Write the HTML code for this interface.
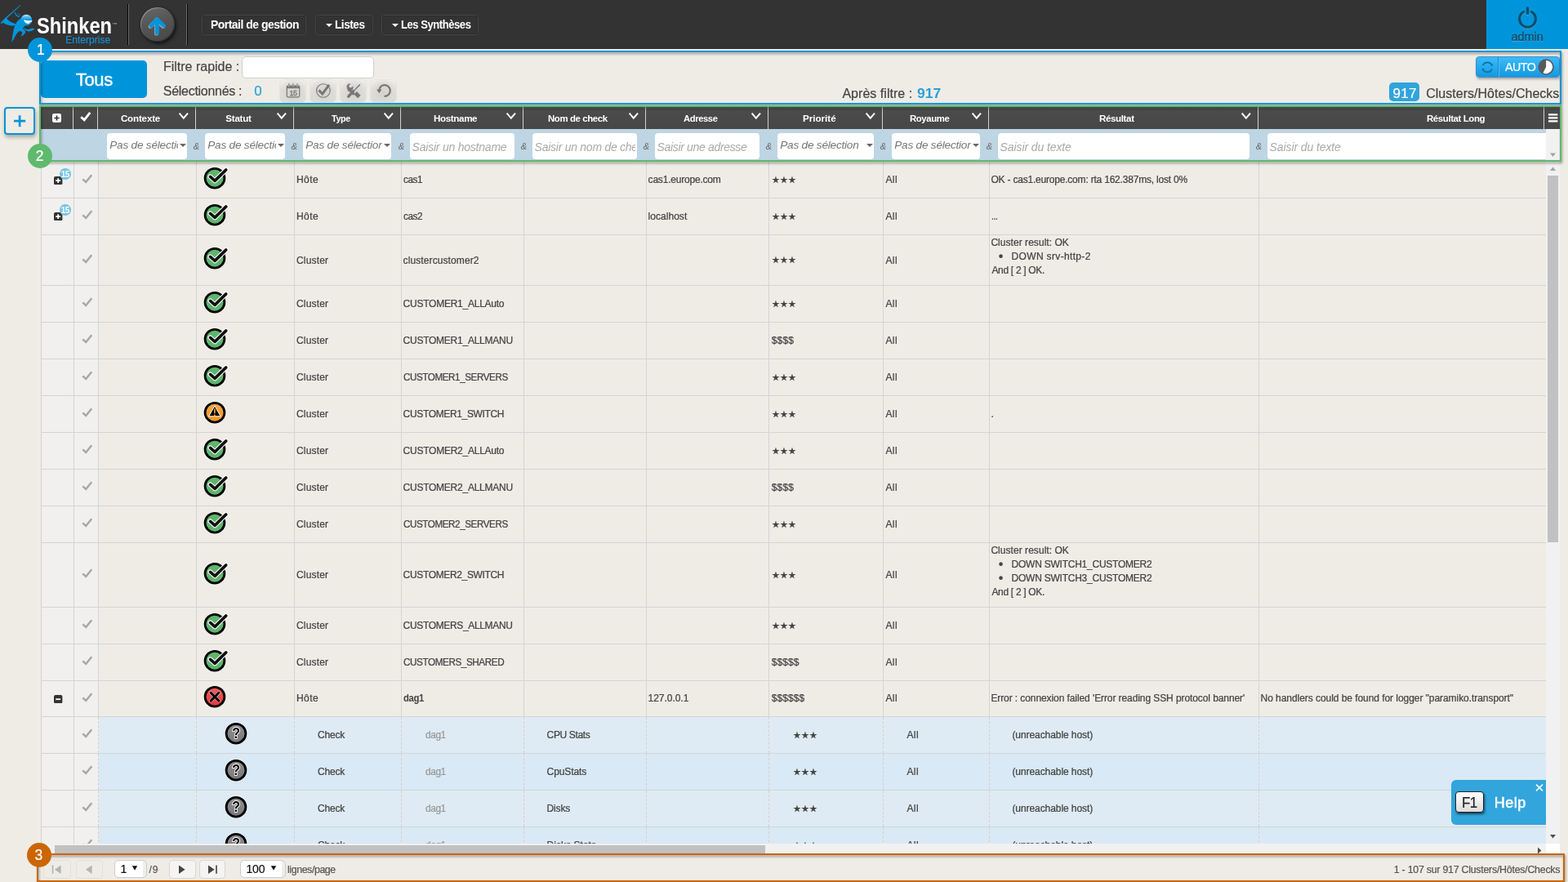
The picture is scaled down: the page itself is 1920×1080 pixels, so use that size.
<!DOCTYPE html>
<html lang="fr"><head><meta charset="utf-8"><title>Shinken Enterprise - Tous</title>
<style>
*{box-sizing:border-box}
html,body{margin:0;padding:0}
body{width:1920px;height:1080px;overflow:hidden;background:#efece6;font-family:'Liberation Sans',sans-serif;color:#444;position:relative}
.a{position:absolute}
.t{position:absolute;white-space:nowrap;-webkit-text-stroke:.2px currentColor}
#topbar{left:0;top:0;width:1920px;height:60px;background:#333}
.vsep{top:5px;width:1px;height:50px;background:#050505}
.vsepl{top:5px;width:1px;height:50px;background:#6c6c6c}
.navbtn{top:18px;height:25px;border:1px solid #444;border-radius:4px;box-shadow:inset 0 0 2px rgba(0,0,0,.35)}
.caret{width:0;height:0;border-left:4px solid transparent;border-right:4px solid transparent;border-top:4px solid #fff}
#admin{left:1820px;top:0;width:100px;height:60px;background:#0095da}
.panel{border-style:solid;border-width:2px;filter:drop-shadow(1.5px 2px 1.8px rgba(0,0,0,.42))}
.badge{width:30px;height:30px;border-radius:50%}
.tbtn{top:97.5px;width:31px;height:27px;border-radius:5px;box-shadow:0 0 0 .6px #dedcd7;background:radial-gradient(ellipse 70% 75% at 50% 62%,#d3d1cd 0%,#dddbd7 55%,rgba(221,219,215,0) 100%),linear-gradient(#f3f2f0,#d9d7d3)}
.hsep{top:131px;width:1px;height:27px;background:#d0d0d0}
.fbox{top:163px;height:32px;background:#fff;border-radius:4px}
.fcaret{width:0;height:0;border-left:4px solid transparent;border-right:4px solid transparent;border-top:4px solid #666}
.pbtn{top:1053px;height:23px;border-radius:4px;border:1px solid #e3e0da}
</style></head>
<body>
<div id="topbar" class="a">
<svg class="a" style="left:0;top:0" width="46" height="60" viewBox="0 0 46 60">
<defs><linearGradient id="hg" x1="0" y1="0" x2="0" y2="1"><stop offset="0" stop-color="#bfe6fa"/><stop offset=".28" stop-color="#45b2e8"/><stop offset=".5" stop-color="#0a98dc"/><stop offset="1" stop-color="#0095da"/></linearGradient></defs>
<g fill="#0095da">
<path d="M24.9 5.9 L25.2 6.7 L8.2 22.6 L2.1 29.1 L0.5 28.1 L7 21.4 Z"/>
<path d="M7.5 21.6 C9 24.6 12.8 27.6 19.6 29.2 L18.2 31.4 C12 31.9 6 30.1 2.9 27 Z"/>
<path d="M25.6 22.5 C22 24.5 20.2 27 19.4 29.2 C17.6 33 16.8 36 16.4 38 C15.4 42 14.7 47 14.25 52.2 C15.2 50 15.8 49.2 16.6 48.4 C17.6 46 18.8 43.8 20.2 41.8 C21.4 40.2 22.6 38.8 23.8 38 C25.4 37 27 36 28.2 34.2 L31 31 Z"/>
<path d="M27 34.4 C30 36 31.6 38.2 31.2 39.6 C30.6 41.6 28.2 43.6 25.4 44.8 C26.8 42.4 27.5 40.6 27 39.6 C26.4 38.6 25 38.1 23.6 38.1 Z"/>
<path d="M28.4 33.4 C31 35.4 33 36 35 36 C36.6 35.8 38 34.6 39.6 34.4 L42.9 35.5 C41 36.4 40 37.5 38.6 38.1 C37 38.6 35.6 38.6 35 38.5 C32.4 38 30.4 36.6 29.6 35.4 Z"/>
</g>
<path d="M18.3 15.6 Q19.6 19.4 23.4 20.7" fill="none" stroke="#0095da" stroke-width="1.2" stroke-linecap="round"/>
<path d="M22.2 16.4 Q23.2 18 24.9 18.9" fill="none" stroke="#0095da" stroke-width=".9" stroke-linecap="round"/>
<ellipse cx="32.25" cy="24.6" rx="7" ry="6.9" fill="url(#hg)"/>
<path d="M29 24.3 C32 25.3 36 25.5 39.4 25 C39.2 27.2 37 28.9 34 28.9 C31.5 28.7 29.8 26.9 29 24.3 Z" fill="#fff"/>
<path d="M36.2 26.9 L37.1 28.2 L38 26.7" fill="none" stroke="#0095da" stroke-width=".6"/>
</svg>
<span class="t" style="left:44.75px;top:15.200000000000003px;font-size:28px;line-height:34px;color:#fff;font-weight:bold;-webkit-text-stroke:0;transform:scaleX(0.8453);transform-origin:0 0">Shinken</span>
<span class="t" style="left:80.2px;top:42.2px;font-size:12px;line-height:14px;color:#1a8fd1;letter-spacing:0.031px">Enterprise</span>
<span class="t" style="left:137.4px;top:27.4px;font-size:6px;line-height:7px;color:#aaa;font-weight:bold;-webkit-text-stroke:0">™</span>
<div class="a vsep" style="left:156px"></div><div class="a vsepl" style="left:157px"></div><div class="a vsepl" style="left:228px"></div><div class="a vsep" style="left:229px"></div>
<div class="a" style="left:171.5px;top:9px;width:42px;height:42px;border-radius:50%;background:linear-gradient(160deg,#686868 0%,#565656 45%,#454545 100%);box-shadow:inset 1px 1px 0 rgba(255,255,255,.28),inset -1px -1px 1px rgba(0,0,0,.35),1.5px 2px 4px rgba(0,0,0,.75)"></div>
<svg class="a" style="left:180px;top:18px" width="26" height="28" viewBox="0 0 26 28"><g fill="none" stroke-linecap="round" stroke-linejoin="miter"><path d="M12.3 8.4 V22.4 M4.7 13.5 L12.5 5.9 L20.3 13.5" stroke="#c8b4cc" stroke-width="5" transform="translate(-.6 .7)"/><path d="M12.3 8.4 V22.4 M4.7 13.5 L12.5 5.9 L20.3 13.5" stroke="#0095da" stroke-width="5"/></g></svg>
<div class="a navbtn" style="left:247px;width:128px"></div>
<span class="t" style="left:257.7px;top:20.4px;font-size:15.5px;line-height:19px;color:#fff;font-weight:bold;-webkit-text-stroke:0;letter-spacing:-0.543px;transform:scaleX(0.8975);transform-origin:0 0">Portail de gestion</span>
<div class="a navbtn" style="left:386px;width:71px"></div><div class="a caret" style="left:399px;top:29px"></div>
<span class="t" style="left:409.52px;top:20.4px;font-size:15.5px;line-height:19px;color:#fff;font-weight:bold;-webkit-text-stroke:0;letter-spacing:-0.543px;transform:scaleX(0.8787);transform-origin:0 0">Listes</span>
<div class="a navbtn" style="left:467px;width:119px"></div><div class="a caret" style="left:480px;top:29px"></div>
<span class="t" style="left:490.76px;top:20.4px;font-size:15.5px;line-height:19px;color:#fff;font-weight:bold;-webkit-text-stroke:0;letter-spacing:-0.543px;transform:scaleX(0.8419);transform-origin:0 0">Les Synthèses</span>
<div id="admin" class="a"></div>
<svg class="a" style="left:1856px;top:8px" width="30" height="30" viewBox="0 0 30 30"><g fill="none" stroke="rgba(255,255,255,.35)" stroke-width="2.6" stroke-linecap="round" transform="translate(0,1)"><path d="M9.6 6.6 A10 10 0 1 0 19.4 6.6"/><path d="M14.5 1.8 V8.6"/></g><g fill="none" stroke="#0d4d6e" stroke-width="3" stroke-linecap="round"><path d="M9.6 6.6 A10 10 0 1 0 19.4 6.6"/><path d="M14.5 1.8 V8.6" stroke-width="3.2"/></g></svg>
<span class="t" style="left:1850.6px;top:36.6px;font-size:14.5px;line-height:17px;color:#0d4d6e;letter-spacing:-0.067px;text-shadow:0 1px 0 rgba(255,255,255,.4);-webkit-text-stroke:.5px #0d4d6e">admin</span>
</div>
<div class="a" style="left:50px;top:74px;width:130px;height:46px;background:#0095da;border-radius:5px"></div>
<span class="t" style="left:92.8px;top:84.8px;font-size:22px;line-height:26px;color:#fff;letter-spacing:-0.373px;-webkit-text-stroke-width:.4px">Tous</span>
<span class="t" style="left:200.0px;top:72px;font-size:16px;line-height:19px;color:#444;letter-spacing:-0.011px">Filtre rapide :</span>
<div class="a" style="left:296px;top:69px;width:162px;height:27px;background:#fff;border:1px solid #d0d0d0;border-radius:5px"></div>
<span class="t" style="left:199.8px;top:102px;font-size:16px;line-height:19px;color:#444;letter-spacing:-0.289px">Sélectionnés :</span>
<span class="t" style="left:311.2px;top:102.2px;font-size:17px;line-height:20px;color:#2b9fd9">0</span>
<div class="a tbtn" style="left:342.5px"></div>
<div class="a tbtn" style="left:379.5px"></div>
<div class="a tbtn" style="left:416.5px"></div>
<div class="a tbtn" style="left:453.5px"></div>
<svg class="a" style="left:342.5px;top:98px" width="31" height="27" viewBox="0 0 31 27"><g fill="#777"><path d="M7.7 8.2 Q7.7 6.4 9.5 6.4 H22.5 Q24.3 6.4 24.3 8.2 V19.6 Q24.3 21.4 22.5 21.4 H9.5 Q7.7 21.4 7.7 19.6 Z M8.9 10.2 V19.4 Q8.9 20.3 9.8 20.3 H22.2 Q23.1 20.3 23.1 19.4 V10.2 Z" fill-rule="evenodd"/></g><g fill="none" stroke="#777" stroke-width="1.1" stroke-linecap="round"><path d="M10.8 4.6 V7.4 M15.9 4.6 V7.4 M21 4.6 V7.4"/></g><g fill="none" stroke="#dedcd8" stroke-width=".7" stroke-linecap="round"><path d="M10.8 6.6 V8 M15.9 6.6 V8 M21 6.6 V8"/></g><text x="16.1" y="18.9" font-family="'Liberation Sans',sans-serif" font-size="9" text-anchor="middle" fill="#777" stroke="#777" stroke-width=".3" letter-spacing="-.3">15</text></svg>
<svg class="a" style="left:379.5px;top:98px" width="31" height="27" viewBox="0 0 31 27"><circle cx="15.9" cy="13" r="8.3" fill="none" stroke="#777" stroke-width="1.1"/><path d="M10.4 12.4 L14.8 17 L23 5.8" fill="none" stroke="#777" stroke-width="3" stroke-linejoin="miter"/></svg>
<svg class="a" style="left:416.5px;top:98px" width="31" height="27" viewBox="0 0 31 27"><g fill="#777" stroke="none"><path d="M7.7 8.6 C7.2 6 9.4 3.9 12.4 4.5 L10.2 6.9 L10.8 9 L12.9 9.6 L15.3 7.4 C16.1 9.6 15.2 11.6 13.4 12.5 L17.6 16.6 L15.4 18.8 L11.3 14.5 C9.5 14.6 8 11.8 7.7 8.6 Z"/><path d="M16.4 17.4 L19.8 14 L24.6 18.8 L21.2 22.2 Z"/><path d="M16.2 12.4 L22.6 5.6 L24.4 4.9 L23.7 6.7 L17 13.2 Z"/></g><path d="M15.6 13.6 L9.7 20.2" fill="none" stroke="#777" stroke-width="3.3" stroke-linecap="round"/></svg>
<svg class="a" style="left:453.5px;top:98px" width="31" height="27" viewBox="0 0 31 27"><path d="M10.2 12.4 A6.8 6.8 0 1 1 17.4 19.8" fill="none" stroke="#777" stroke-width="2.2" stroke-linecap="round"/><path d="M7 11.6 L13.6 11.6 L10.3 16.2 Z" fill="#777"/></svg>
<span class="t" style="left:1031.4px;top:104.6px;font-size:16px;line-height:19px;color:#444;letter-spacing:0.034px">Après filtre :</span>
<span class="t" style="left:1122.78px;top:103.6px;font-size:17.2px;line-height:21px;color:#2b9fd9;font-weight:bold;-webkit-text-stroke:0;transform:scaleX(1.0222);transform-origin:0 0">917</span>
<div class="a" style="left:1807px;top:69px;width:103px;height:26px;border-radius:4px;border:1px solid #4a8acb;background:linear-gradient(#38bcfa,#1498e1);box-shadow:1px 2px 3px rgba(0,0,0,.3)"></div>
<div class="a" style="left:1834px;top:70px;width:1px;height:24px;background:#2a86c0"></div><div class="a" style="left:1835px;top:70px;width:1px;height:24px;background:#4cc0f8"></div>
<svg class="a" style="left:1813px;top:74px" width="17" height="17" viewBox="0 0 17 17"><g fill="none" stroke="#1575a3" stroke-width="1.9" stroke-linecap="butt"><path d="M2.7 6.2 A6.1 6.1 0 0 1 13.9 6.2"/><path d="M13.9 10.6 A6.1 6.1 0 0 1 2.7 10.6"/></g><path d="M14.9 3.9 L14.7 7.3 L11.9 6.2 Z M1.7 12.9 L1.9 9.5 L4.7 10.6 Z" fill="#1575a3"/></svg>
<svg class="a" style="left:1882px;top:71px" width="22" height="22" viewBox="0 0 22 22"><circle cx="11.1" cy="11" r="9.7" fill="#59595d"/><path d="M11.1 11 L11.1 2.9 A8.1 8.1 0 1 1 7.5 18.3 Z" fill="#fff"/></svg>
<span class="t" style="left:1842.6px;top:74px;font-size:14.5px;line-height:17px;color:#fff;letter-spacing:-0.508px;transform:scaleX(0.9801);transform-origin:0 0">AUTO</span>
<div class="a" style="left:1701px;top:101px;width:37px;height:23px;background:#31a4dc;border-radius:5px"></div>
<span class="t" style="left:1705.6px;top:104.6px;font-size:17px;line-height:20px;color:#fff;letter-spacing:0.19px">917</span>
<span class="t" style="left:1746.2px;top:104.6px;font-size:16px;line-height:19px;color:#444;letter-spacing:0.022px">Clusters/Hôtes/Checks</span>
<div class="a panel" style="left:48px;top:62px;width:1864px;height:66px;border-color:#0095da"></div>
<div class="a" style="left:5px;top:131px;width:38px;height:34px;border:2px solid #0095da;border-radius:4px;background:#efece6;box-shadow:1px 3px 5px rgba(0,0,0,.3)"></div>
<svg class="a" style="left:5px;top:131px" width="38" height="34" viewBox="0 0 38 34"><path d="M12 17.2 H26.2 M19.1 10.2 V24.2" stroke="#0095da" stroke-width="2.7" fill="none"/></svg>
<svg class="a" width="0" height="0" style="left:0;top:0" aria-hidden="true"><defs><linearGradient id="wg" x1="0" y1="0" x2="0" y2="1"><stop offset="0" stop-color="#f6a844"/><stop offset="1" stop-color="#f0931e"/></linearGradient><linearGradient id="cg" x1="0" y1="0" x2="0" y2="1"><stop offset="0" stop-color="#ee5e5e"/><stop offset="1" stop-color="#e63636"/></linearGradient><linearGradient id="ug" x1="0" y1="0" x2="0" y2="1"><stop offset="0" stop-color="#909092"/><stop offset="1" stop-color="#78787a"/></linearGradient></defs></svg>
<div class="a" id="tbody" style="left:0;top:198px;width:1893px;height:835px;overflow:hidden">
<div class="a" style="left:50px;top:0;width:71px;height:835px;background:#f1f0ee"></div>
<div class="a" style="left:50px;top:44px;width:1843px;height:1px;background:#d4d4d5"></div>
<svg class="a" style="left:66.3px;top:17.7px" width="10.4" height="10.4" viewBox="0 0 11 11"><rect width="11" height="11" rx="2.2" fill="#333"/><path d="M2.4 5.5 H8.6 M5.5 2.4 V8.6" stroke="#fff" stroke-width="1.9"/></svg>
<div class="a" style="left:73px;top:8px;width:14px;height:14px;border-radius:50%;background:#74c4e4"></div>
<span class="t" style="left:74.7px;top:9.7px;font-size:10px;line-height:12px;color:#fff;font-weight:bold;-webkit-text-stroke:0;letter-spacing:-0.5px">15</span>
<svg class="a" style="left:100px;top:15.2px" width="14" height="12" viewBox="0 0 14 12"><path d="M1.3 6.4 L5.2 10 L12.3 1.3" fill="none" stroke="#a8a8a8" stroke-width="2.5"/></svg>
<svg class="a" style="left:248.3px;top:4.8px" width="32" height="30" viewBox="0 0 32 30"><circle cx="15" cy="15.2" r="14.3" fill="rgba(255,255,255,.3)"/><circle cx="15" cy="15.2" r="11.9" fill="#5eb56d" stroke="#000" stroke-width="2.8"/><path d="M9.5 13.4 L15.1 18.4 L28.8 4.9" fill="none" stroke="#fff" stroke-width="5.8" stroke-linecap="round" stroke-linejoin="round"/><path d="M9.5 13.4 L15.1 18.4 L28.8 4.9" fill="none" stroke="#111" stroke-width="3.6" stroke-linecap="round" stroke-linejoin="round"/></svg>
<span class="t" style="left:363.0px;top:15.300000000000011px;font-size:12px;line-height:14px;color:#444;letter-spacing:0.427px;-webkit-text-stroke-width:.24px">Hôte</span>
<span class="t" style="left:493.62px;top:15.300000000000011px;font-size:12px;line-height:14px;color:#444;letter-spacing:-0.42px;transform:scaleX(0.9798);transform-origin:0 0;-webkit-text-stroke-width:.24px">cas1</span>
<span class="t" style="left:793.6px;top:15.300000000000011px;font-size:12px;line-height:14px;color:#444;letter-spacing:-0.201px;-webkit-text-stroke-width:.24px">cas1.europe.com</span>
<span class="t" style="left:945.4px;top:15px;font-size:11px;line-height:14px;color:#444">★★★</span>
<span class="t" style="left:1084.4px;top:15.300000000000011px;font-size:12px;line-height:14px;color:#444;letter-spacing:0.44px;-webkit-text-stroke-width:.24px">All</span>
<span class="t" style="left:1213.4px;top:15.300000000000011px;font-size:12px;line-height:14px;color:#444;letter-spacing:-0.203px;-webkit-text-stroke-width:.24px">OK - cas1.europe.com: rta 162.387ms, lost 0%</span>
<div class="a" style="left:50px;top:89px;width:1843px;height:1px;background:#d4d4d5"></div>
<svg class="a" style="left:66.3px;top:61.7px" width="10.4" height="10.4" viewBox="0 0 11 11"><rect width="11" height="11" rx="2.2" fill="#333"/><path d="M2.4 5.5 H8.6 M5.5 2.4 V8.6" stroke="#fff" stroke-width="1.9"/></svg>
<div class="a" style="left:73px;top:52px;width:14px;height:14px;border-radius:50%;background:#74c4e4"></div>
<span class="t" style="left:74.7px;top:53.7px;font-size:10px;line-height:12px;color:#fff;font-weight:bold;-webkit-text-stroke:0;letter-spacing:-0.5px">15</span>
<svg class="a" style="left:100px;top:59.2px" width="14" height="12" viewBox="0 0 14 12"><path d="M1.3 6.4 L5.2 10 L12.3 1.3" fill="none" stroke="#a8a8a8" stroke-width="2.5"/></svg>
<svg class="a" style="left:248.3px;top:49.8px" width="32" height="30" viewBox="0 0 32 30"><circle cx="15" cy="15.2" r="14.3" fill="rgba(255,255,255,.3)"/><circle cx="15" cy="15.2" r="11.9" fill="#5eb56d" stroke="#000" stroke-width="2.8"/><path d="M9.5 13.4 L15.1 18.4 L28.8 4.9" fill="none" stroke="#fff" stroke-width="5.8" stroke-linecap="round" stroke-linejoin="round"/><path d="M9.5 13.4 L15.1 18.4 L28.8 4.9" fill="none" stroke="#111" stroke-width="3.6" stroke-linecap="round" stroke-linejoin="round"/></svg>
<span class="t" style="left:363.0px;top:60.30000000000001px;font-size:12px;line-height:14px;color:#444;letter-spacing:0.427px;-webkit-text-stroke-width:.24px">Hôte</span>
<span class="t" style="left:493.62px;top:60.30000000000001px;font-size:12px;line-height:14px;color:#444;letter-spacing:-0.42px;transform:scaleX(0.9798);transform-origin:0 0;-webkit-text-stroke-width:.24px">cas2</span>
<span class="t" style="left:793.6px;top:60.30000000000001px;font-size:12px;line-height:14px;color:#444;letter-spacing:0.035px;-webkit-text-stroke-width:.24px">localhost</span>
<span class="t" style="left:945.4px;top:60px;font-size:11px;line-height:14px;color:#444">★★★</span>
<span class="t" style="left:1084.4px;top:60.30000000000001px;font-size:12px;line-height:14px;color:#444;letter-spacing:0.44px;-webkit-text-stroke-width:.24px">All</span>
<span class="t" style="left:1213.54px;top:60.30000000000001px;font-size:12px;line-height:14px;color:#444;letter-spacing:-0.42px;transform:scaleX(0.8631);transform-origin:0 0;-webkit-text-stroke-width:.24px">...</span>
<div class="a" style="left:50px;top:151px;width:1843px;height:1px;background:#d4d4d5"></div>
<svg class="a" style="left:100px;top:112.7px" width="14" height="12" viewBox="0 0 14 12"><path d="M1.3 6.4 L5.2 10 L12.3 1.3" fill="none" stroke="#a8a8a8" stroke-width="2.5"/></svg>
<svg class="a" style="left:248.3px;top:103.3px" width="32" height="30" viewBox="0 0 32 30"><circle cx="15" cy="15.2" r="14.3" fill="rgba(255,255,255,.3)"/><circle cx="15" cy="15.2" r="11.9" fill="#5eb56d" stroke="#000" stroke-width="2.8"/><path d="M9.5 13.4 L15.1 18.4 L28.8 4.9" fill="none" stroke="#fff" stroke-width="5.8" stroke-linecap="round" stroke-linejoin="round"/><path d="M9.5 13.4 L15.1 18.4 L28.8 4.9" fill="none" stroke="#111" stroke-width="3.6" stroke-linecap="round" stroke-linejoin="round"/></svg>
<span class="t" style="left:363.0px;top:113.80000000000001px;font-size:12px;line-height:14px;color:#444;letter-spacing:0.163px;-webkit-text-stroke-width:.24px">Cluster</span>
<span class="t" style="left:493.6px;top:113.80000000000001px;font-size:12px;line-height:14px;color:#444;letter-spacing:0.099px;-webkit-text-stroke-width:.24px">clustercustomer2</span>
<span class="t" style="left:945.4px;top:113px;font-size:11px;line-height:14px;color:#444">★★★</span>
<span class="t" style="left:1084.4px;top:113.80000000000001px;font-size:12px;line-height:14px;color:#444;letter-spacing:0.44px;-webkit-text-stroke-width:.24px">All</span>
<span class="t" style="left:1213.4px;top:92px;font-size:12px;line-height:14px;color:#444;letter-spacing:0.046px;-webkit-text-stroke-width:.24px">Cluster result: OK</span>
<span class="t" style="left:1222.8px;top:106.2px;font-size:16px;line-height:19px;color:#444">•</span>
<span class="t" style="left:1238.6px;top:109px;font-size:12px;line-height:14px;color:#444;letter-spacing:0.341px;-webkit-text-stroke-width:.24px">DOWN srv-http-2</span>
<span class="t" style="left:1214.4px;top:126px;font-size:12px;line-height:14px;color:#444;letter-spacing:-0.31px;-webkit-text-stroke-width:.24px">And [ 2 ] OK.</span>
<div class="a" style="left:50px;top:196px;width:1843px;height:1px;background:#d4d4d5"></div>
<svg class="a" style="left:100px;top:166.2px" width="14" height="12" viewBox="0 0 14 12"><path d="M1.3 6.4 L5.2 10 L12.3 1.3" fill="none" stroke="#a8a8a8" stroke-width="2.5"/></svg>
<svg class="a" style="left:248.3px;top:156.8px" width="32" height="30" viewBox="0 0 32 30"><circle cx="15" cy="15.2" r="14.3" fill="rgba(255,255,255,.3)"/><circle cx="15" cy="15.2" r="11.9" fill="#5eb56d" stroke="#000" stroke-width="2.8"/><path d="M9.5 13.4 L15.1 18.4 L28.8 4.9" fill="none" stroke="#fff" stroke-width="5.8" stroke-linecap="round" stroke-linejoin="round"/><path d="M9.5 13.4 L15.1 18.4 L28.8 4.9" fill="none" stroke="#111" stroke-width="3.6" stroke-linecap="round" stroke-linejoin="round"/></svg>
<span class="t" style="left:363.0px;top:167.3px;font-size:12px;line-height:14px;color:#444;letter-spacing:0.163px;-webkit-text-stroke-width:.24px">Cluster</span>
<span class="t" style="left:493.6px;top:167.3px;font-size:12px;line-height:14px;color:#444;letter-spacing:-0.245px;-webkit-text-stroke-width:.24px">CUSTOMER1_ALLAuto</span>
<span class="t" style="left:945.4px;top:167px;font-size:11px;line-height:14px;color:#444">★★★</span>
<span class="t" style="left:1084.4px;top:167.3px;font-size:12px;line-height:14px;color:#444;letter-spacing:0.44px;-webkit-text-stroke-width:.24px">All</span>
<div class="a" style="left:50px;top:241px;width:1843px;height:1px;background:#d4d4d5"></div>
<svg class="a" style="left:100px;top:211.2px" width="14" height="12" viewBox="0 0 14 12"><path d="M1.3 6.4 L5.2 10 L12.3 1.3" fill="none" stroke="#a8a8a8" stroke-width="2.5"/></svg>
<svg class="a" style="left:248.3px;top:201.8px" width="32" height="30" viewBox="0 0 32 30"><circle cx="15" cy="15.2" r="14.3" fill="rgba(255,255,255,.3)"/><circle cx="15" cy="15.2" r="11.9" fill="#5eb56d" stroke="#000" stroke-width="2.8"/><path d="M9.5 13.4 L15.1 18.4 L28.8 4.9" fill="none" stroke="#fff" stroke-width="5.8" stroke-linecap="round" stroke-linejoin="round"/><path d="M9.5 13.4 L15.1 18.4 L28.8 4.9" fill="none" stroke="#111" stroke-width="3.6" stroke-linecap="round" stroke-linejoin="round"/></svg>
<span class="t" style="left:363.0px;top:212.3px;font-size:12px;line-height:14px;color:#444;letter-spacing:0.163px;-webkit-text-stroke-width:.24px">Cluster</span>
<span class="t" style="left:493.6px;top:212.3px;font-size:12px;line-height:14px;color:#444;letter-spacing:-0.251px;-webkit-text-stroke-width:.24px">CUSTOMER1_ALLMANU</span>
<span class="t" style="left:944.8px;top:212.3px;font-size:12px;line-height:14px;color:#444;letter-spacing:0.127px;-webkit-text-stroke-width:.24px">$$$$</span>
<span class="t" style="left:1084.4px;top:212.3px;font-size:12px;line-height:14px;color:#444;letter-spacing:0.44px;-webkit-text-stroke-width:.24px">All</span>
<div class="a" style="left:50px;top:286px;width:1843px;height:1px;background:#d4d4d5"></div>
<svg class="a" style="left:100px;top:256.2px" width="14" height="12" viewBox="0 0 14 12"><path d="M1.3 6.4 L5.2 10 L12.3 1.3" fill="none" stroke="#a8a8a8" stroke-width="2.5"/></svg>
<svg class="a" style="left:248.3px;top:246.8px" width="32" height="30" viewBox="0 0 32 30"><circle cx="15" cy="15.2" r="14.3" fill="rgba(255,255,255,.3)"/><circle cx="15" cy="15.2" r="11.9" fill="#5eb56d" stroke="#000" stroke-width="2.8"/><path d="M9.5 13.4 L15.1 18.4 L28.8 4.9" fill="none" stroke="#fff" stroke-width="5.8" stroke-linecap="round" stroke-linejoin="round"/><path d="M9.5 13.4 L15.1 18.4 L28.8 4.9" fill="none" stroke="#111" stroke-width="3.6" stroke-linecap="round" stroke-linejoin="round"/></svg>
<span class="t" style="left:363.0px;top:257.3px;font-size:12px;line-height:14px;color:#444;letter-spacing:0.163px;-webkit-text-stroke-width:.24px">Cluster</span>
<span class="t" style="left:493.63px;top:257.3px;font-size:12px;line-height:14px;color:#444;letter-spacing:-0.42px;transform:scaleX(0.9693);transform-origin:0 0;-webkit-text-stroke-width:.24px">CUSTOMER1_SERVERS</span>
<span class="t" style="left:945.4px;top:257px;font-size:11px;line-height:14px;color:#444">★★★</span>
<span class="t" style="left:1084.4px;top:257.3px;font-size:12px;line-height:14px;color:#444;letter-spacing:0.44px;-webkit-text-stroke-width:.24px">All</span>
<div class="a" style="left:50px;top:331px;width:1843px;height:1px;background:#d4d4d5"></div>
<svg class="a" style="left:100px;top:301.2px" width="14" height="12" viewBox="0 0 14 12"><path d="M1.3 6.4 L5.2 10 L12.3 1.3" fill="none" stroke="#a8a8a8" stroke-width="2.5"/></svg>
<svg class="a" style="left:248.3px;top:291.8px" width="32" height="30" viewBox="0 0 32 30"><circle cx="15" cy="15.2" r="14.3" fill="rgba(255,255,255,.3)"/><circle cx="15" cy="15.2" r="11.9" fill="url(#wg)" stroke="#000" stroke-width="2.8"/><path d="M14.9 7 L22.2 19.8 H7.6 Z" fill="#000" stroke="#fff" stroke-width="1" stroke-linejoin="round"/><path d="M14.9 10.6 V16.2 M14.9 17.4 V19.1" stroke="#e8962a" stroke-width="1.8" fill="none"/></svg>
<span class="t" style="left:363.0px;top:302.3px;font-size:12px;line-height:14px;color:#444;letter-spacing:0.163px;-webkit-text-stroke-width:.24px">Cluster</span>
<span class="t" style="left:493.6px;top:302.3px;font-size:12px;line-height:14px;color:#444;letter-spacing:-0.348px;-webkit-text-stroke-width:.24px">CUSTOMER1_SWITCH</span>
<span class="t" style="left:945.4px;top:302px;font-size:11px;line-height:14px;color:#444">★★★</span>
<span class="t" style="left:1084.4px;top:302.3px;font-size:12px;line-height:14px;color:#444;letter-spacing:0.44px;-webkit-text-stroke-width:.24px">All</span>
<span class="t" style="left:1213.4px;top:302.3px;font-size:12px;line-height:14px;color:#444;letter-spacing:-0.2px;-webkit-text-stroke-width:.24px">.</span>
<div class="a" style="left:50px;top:376px;width:1843px;height:1px;background:#d4d4d5"></div>
<svg class="a" style="left:100px;top:346.2px" width="14" height="12" viewBox="0 0 14 12"><path d="M1.3 6.4 L5.2 10 L12.3 1.3" fill="none" stroke="#a8a8a8" stroke-width="2.5"/></svg>
<svg class="a" style="left:248.3px;top:336.8px" width="32" height="30" viewBox="0 0 32 30"><circle cx="15" cy="15.2" r="14.3" fill="rgba(255,255,255,.3)"/><circle cx="15" cy="15.2" r="11.9" fill="#5eb56d" stroke="#000" stroke-width="2.8"/><path d="M9.5 13.4 L15.1 18.4 L28.8 4.9" fill="none" stroke="#fff" stroke-width="5.8" stroke-linecap="round" stroke-linejoin="round"/><path d="M9.5 13.4 L15.1 18.4 L28.8 4.9" fill="none" stroke="#111" stroke-width="3.6" stroke-linecap="round" stroke-linejoin="round"/></svg>
<span class="t" style="left:363.0px;top:347.29999999999995px;font-size:12px;line-height:14px;color:#444;letter-spacing:0.163px;-webkit-text-stroke-width:.24px">Cluster</span>
<span class="t" style="left:493.6px;top:347.29999999999995px;font-size:12px;line-height:14px;color:#444;letter-spacing:-0.245px;-webkit-text-stroke-width:.24px">CUSTOMER2_ALLAuto</span>
<span class="t" style="left:945.4px;top:347px;font-size:11px;line-height:14px;color:#444">★★★</span>
<span class="t" style="left:1084.4px;top:347.29999999999995px;font-size:12px;line-height:14px;color:#444;letter-spacing:0.44px;-webkit-text-stroke-width:.24px">All</span>
<div class="a" style="left:50px;top:421px;width:1843px;height:1px;background:#d4d4d5"></div>
<svg class="a" style="left:100px;top:391.2px" width="14" height="12" viewBox="0 0 14 12"><path d="M1.3 6.4 L5.2 10 L12.3 1.3" fill="none" stroke="#a8a8a8" stroke-width="2.5"/></svg>
<svg class="a" style="left:248.3px;top:381.8px" width="32" height="30" viewBox="0 0 32 30"><circle cx="15" cy="15.2" r="14.3" fill="rgba(255,255,255,.3)"/><circle cx="15" cy="15.2" r="11.9" fill="#5eb56d" stroke="#000" stroke-width="2.8"/><path d="M9.5 13.4 L15.1 18.4 L28.8 4.9" fill="none" stroke="#fff" stroke-width="5.8" stroke-linecap="round" stroke-linejoin="round"/><path d="M9.5 13.4 L15.1 18.4 L28.8 4.9" fill="none" stroke="#111" stroke-width="3.6" stroke-linecap="round" stroke-linejoin="round"/></svg>
<span class="t" style="left:363.0px;top:392.29999999999995px;font-size:12px;line-height:14px;color:#444;letter-spacing:0.163px;-webkit-text-stroke-width:.24px">Cluster</span>
<span class="t" style="left:493.6px;top:392.29999999999995px;font-size:12px;line-height:14px;color:#444;letter-spacing:-0.251px;-webkit-text-stroke-width:.24px">CUSTOMER2_ALLMANU</span>
<span class="t" style="left:944.8px;top:392.29999999999995px;font-size:12px;line-height:14px;color:#444;letter-spacing:0.127px;-webkit-text-stroke-width:.24px">$$$$</span>
<span class="t" style="left:1084.4px;top:392.29999999999995px;font-size:12px;line-height:14px;color:#444;letter-spacing:0.44px;-webkit-text-stroke-width:.24px">All</span>
<div class="a" style="left:50px;top:466px;width:1843px;height:1px;background:#d4d4d5"></div>
<svg class="a" style="left:100px;top:436.2px" width="14" height="12" viewBox="0 0 14 12"><path d="M1.3 6.4 L5.2 10 L12.3 1.3" fill="none" stroke="#a8a8a8" stroke-width="2.5"/></svg>
<svg class="a" style="left:248.3px;top:426.8px" width="32" height="30" viewBox="0 0 32 30"><circle cx="15" cy="15.2" r="14.3" fill="rgba(255,255,255,.3)"/><circle cx="15" cy="15.2" r="11.9" fill="#5eb56d" stroke="#000" stroke-width="2.8"/><path d="M9.5 13.4 L15.1 18.4 L28.8 4.9" fill="none" stroke="#fff" stroke-width="5.8" stroke-linecap="round" stroke-linejoin="round"/><path d="M9.5 13.4 L15.1 18.4 L28.8 4.9" fill="none" stroke="#111" stroke-width="3.6" stroke-linecap="round" stroke-linejoin="round"/></svg>
<span class="t" style="left:363.0px;top:437.29999999999995px;font-size:12px;line-height:14px;color:#444;letter-spacing:0.163px;-webkit-text-stroke-width:.24px">Cluster</span>
<span class="t" style="left:493.63px;top:437.29999999999995px;font-size:12px;line-height:14px;color:#444;letter-spacing:-0.42px;transform:scaleX(0.9693);transform-origin:0 0;-webkit-text-stroke-width:.24px">CUSTOMER2_SERVERS</span>
<span class="t" style="left:945.4px;top:437px;font-size:11px;line-height:14px;color:#444">★★★</span>
<span class="t" style="left:1084.4px;top:437.29999999999995px;font-size:12px;line-height:14px;color:#444;letter-spacing:0.44px;-webkit-text-stroke-width:.24px">All</span>
<div class="a" style="left:50px;top:545px;width:1843px;height:1px;background:#d4d4d5"></div>
<svg class="a" style="left:100px;top:498.2px" width="14" height="12" viewBox="0 0 14 12"><path d="M1.3 6.4 L5.2 10 L12.3 1.3" fill="none" stroke="#a8a8a8" stroke-width="2.5"/></svg>
<svg class="a" style="left:248.3px;top:488.8px" width="32" height="30" viewBox="0 0 32 30"><circle cx="15" cy="15.2" r="14.3" fill="rgba(255,255,255,.3)"/><circle cx="15" cy="15.2" r="11.9" fill="#5eb56d" stroke="#000" stroke-width="2.8"/><path d="M9.5 13.4 L15.1 18.4 L28.8 4.9" fill="none" stroke="#fff" stroke-width="5.8" stroke-linecap="round" stroke-linejoin="round"/><path d="M9.5 13.4 L15.1 18.4 L28.8 4.9" fill="none" stroke="#111" stroke-width="3.6" stroke-linecap="round" stroke-linejoin="round"/></svg>
<span class="t" style="left:363.0px;top:499.29999999999995px;font-size:12px;line-height:14px;color:#444;letter-spacing:0.163px;-webkit-text-stroke-width:.24px">Cluster</span>
<span class="t" style="left:493.6px;top:499.29999999999995px;font-size:12px;line-height:14px;color:#444;letter-spacing:-0.348px;-webkit-text-stroke-width:.24px">CUSTOMER2_SWITCH</span>
<span class="t" style="left:945.4px;top:499px;font-size:11px;line-height:14px;color:#444">★★★</span>
<span class="t" style="left:1084.4px;top:499.29999999999995px;font-size:12px;line-height:14px;color:#444;letter-spacing:0.44px;-webkit-text-stroke-width:.24px">All</span>
<span class="t" style="left:1213.4px;top:469px;font-size:12px;line-height:14px;color:#444;letter-spacing:0.046px;-webkit-text-stroke-width:.24px">Cluster result: OK</span>
<span class="t" style="left:1222.8px;top:483.2px;font-size:16px;line-height:19px;color:#444">•</span>
<span class="t" style="left:1238.6px;top:486px;font-size:12px;line-height:14px;color:#444;letter-spacing:-0.239px;-webkit-text-stroke-width:.24px">DOWN SWITCH1_CUSTOMER2</span>
<span class="t" style="left:1222.8px;top:500.20000000000005px;font-size:16px;line-height:19px;color:#444">•</span>
<span class="t" style="left:1238.6px;top:503px;font-size:12px;line-height:14px;color:#444;letter-spacing:-0.239px;-webkit-text-stroke-width:.24px">DOWN SWITCH3_CUSTOMER2</span>
<span class="t" style="left:1214.4px;top:520px;font-size:12px;line-height:14px;color:#444;letter-spacing:-0.31px;-webkit-text-stroke-width:.24px">And [ 2 ] OK.</span>
<div class="a" style="left:50px;top:590px;width:1843px;height:1px;background:#d4d4d5"></div>
<svg class="a" style="left:100px;top:560.2px" width="14" height="12" viewBox="0 0 14 12"><path d="M1.3 6.4 L5.2 10 L12.3 1.3" fill="none" stroke="#a8a8a8" stroke-width="2.5"/></svg>
<svg class="a" style="left:248.3px;top:550.8px" width="32" height="30" viewBox="0 0 32 30"><circle cx="15" cy="15.2" r="14.3" fill="rgba(255,255,255,.3)"/><circle cx="15" cy="15.2" r="11.9" fill="#5eb56d" stroke="#000" stroke-width="2.8"/><path d="M9.5 13.4 L15.1 18.4 L28.8 4.9" fill="none" stroke="#fff" stroke-width="5.8" stroke-linecap="round" stroke-linejoin="round"/><path d="M9.5 13.4 L15.1 18.4 L28.8 4.9" fill="none" stroke="#111" stroke-width="3.6" stroke-linecap="round" stroke-linejoin="round"/></svg>
<span class="t" style="left:363.0px;top:561.3px;font-size:12px;line-height:14px;color:#444;letter-spacing:0.163px;-webkit-text-stroke-width:.24px">Cluster</span>
<span class="t" style="left:493.6px;top:561.3px;font-size:12px;line-height:14px;color:#444;letter-spacing:-0.345px;-webkit-text-stroke-width:.24px">CUSTOMERS_ALLMANU</span>
<span class="t" style="left:945.4px;top:561px;font-size:11px;line-height:14px;color:#444">★★★</span>
<span class="t" style="left:1084.4px;top:561.3px;font-size:12px;line-height:14px;color:#444;letter-spacing:0.44px;-webkit-text-stroke-width:.24px">All</span>
<div class="a" style="left:50px;top:635px;width:1843px;height:1px;background:#d4d4d5"></div>
<svg class="a" style="left:100px;top:605.2px" width="14" height="12" viewBox="0 0 14 12"><path d="M1.3 6.4 L5.2 10 L12.3 1.3" fill="none" stroke="#a8a8a8" stroke-width="2.5"/></svg>
<svg class="a" style="left:248.3px;top:595.8px" width="32" height="30" viewBox="0 0 32 30"><circle cx="15" cy="15.2" r="14.3" fill="rgba(255,255,255,.3)"/><circle cx="15" cy="15.2" r="11.9" fill="#5eb56d" stroke="#000" stroke-width="2.8"/><path d="M9.5 13.4 L15.1 18.4 L28.8 4.9" fill="none" stroke="#fff" stroke-width="5.8" stroke-linecap="round" stroke-linejoin="round"/><path d="M9.5 13.4 L15.1 18.4 L28.8 4.9" fill="none" stroke="#111" stroke-width="3.6" stroke-linecap="round" stroke-linejoin="round"/></svg>
<span class="t" style="left:363.0px;top:606.3px;font-size:12px;line-height:14px;color:#444;letter-spacing:0.163px;-webkit-text-stroke-width:.24px">Cluster</span>
<span class="t" style="left:493.63px;top:606.3px;font-size:12px;line-height:14px;color:#444;letter-spacing:-0.42px;transform:scaleX(0.9744);transform-origin:0 0;-webkit-text-stroke-width:.24px">CUSTOMERS_SHARED</span>
<span class="t" style="left:944.8px;top:606.3px;font-size:12px;line-height:14px;color:#444;letter-spacing:0.095px;-webkit-text-stroke-width:.24px">$$$$$</span>
<span class="t" style="left:1084.4px;top:606.3px;font-size:12px;line-height:14px;color:#444;letter-spacing:0.44px;-webkit-text-stroke-width:.24px">All</span>
<div class="a" style="left:50px;top:679px;width:1843px;height:1px;background:#d4d4d5"></div>
<svg class="a" style="left:66.3px;top:652.7px" width="10.4" height="10.4" viewBox="0 0 11 11"><rect width="11" height="11" rx="2.2" fill="#333"/><path d="M2.4 5.5 H8.6" stroke="#fff" stroke-width="1.9"/></svg>
<svg class="a" style="left:100px;top:649.7px" width="14" height="12" viewBox="0 0 14 12"><path d="M1.3 6.4 L5.2 10 L12.3 1.3" fill="none" stroke="#a8a8a8" stroke-width="2.5"/></svg>
<svg class="a" style="left:248.3px;top:640.3px" width="32" height="30" viewBox="0 0 32 30"><circle cx="15" cy="15.2" r="14.3" fill="rgba(255,255,255,.3)"/><circle cx="15" cy="15.2" r="11.9" fill="url(#cg)" stroke="#000" stroke-width="2.8"/><path d="M10.1 10.3 L19.9 20.1 M19.9 10.3 L10.1 20.1" stroke="#fff" stroke-width="4" stroke-linecap="round" fill="none" opacity=".75"/><path d="M10.1 10.3 L19.9 20.1 M19.9 10.3 L10.1 20.1" stroke="#000" stroke-width="3" stroke-linecap="round" fill="none"/></svg>
<span class="t" style="left:363.0px;top:649.8px;font-size:12px;line-height:14px;color:#444;letter-spacing:0.427px;-webkit-text-stroke-width:.24px">Hôte</span>
<span class="t" style="left:494.2px;top:649.8px;font-size:12px;line-height:14px;color:#444;font-weight:bold;-webkit-text-stroke:0;letter-spacing:-0.42px;transform:scaleX(0.9424);transform-origin:0 0">dag1</span>
<span class="t" style="left:793.6px;top:649.8px;font-size:12px;line-height:14px;color:#444;letter-spacing:-0.04px;-webkit-text-stroke-width:.24px">127.0.0.1</span>
<span class="t" style="left:944.8px;top:649.8px;font-size:12px;line-height:14px;color:#444;letter-spacing:0.076px;-webkit-text-stroke-width:.24px">$$$$$$</span>
<span class="t" style="left:1084.4px;top:649.8px;font-size:12px;line-height:14px;color:#444;letter-spacing:0.44px;-webkit-text-stroke-width:.24px">All</span>
<span class="t" style="left:1213.4px;top:649.8px;font-size:12px;line-height:14px;color:#444;letter-spacing:-0.088px;-webkit-text-stroke-width:.24px">Error : connexion failed 'Error reading SSH protocol banner'</span>
<span class="t" style="left:1543.6px;top:649.8px;font-size:12px;line-height:14px;color:#444;letter-spacing:-0.056px;-webkit-text-stroke-width:.24px">No handlers could be found for logger &quot;paramiko.transport&quot;</span>
<div class="a" style="left:121px;top:680px;width:1772px;height:44px;background:#deebf4"></div>
<div class="a" style="left:240px;top:680px;width:0;height:44px;border-left:1px dashed #d6cfd0"></div>
<div class="a" style="left:360px;top:680px;width:0;height:44px;border-left:1px dashed #d6cfd0"></div>
<div class="a" style="left:491px;top:680px;width:0;height:44px;border-left:1px dashed #d6cfd0"></div>
<div class="a" style="left:641px;top:680px;width:0;height:44px;border-left:1px dashed #d6cfd0"></div>
<div class="a" style="left:791px;top:680px;width:0;height:44px;border-left:1px dashed #d6cfd0"></div>
<div class="a" style="left:941px;top:680px;width:0;height:44px;border-left:1px dashed #d6cfd0"></div>
<div class="a" style="left:1081px;top:680px;width:0;height:44px;border-left:1px dashed #d6cfd0"></div>
<div class="a" style="left:1211px;top:680px;width:0;height:44px;border-left:1px dashed #d6cfd0"></div>
<div class="a" style="left:1541px;top:680px;width:0;height:44px;border-left:1px dashed #d6cfd0"></div>
<div class="a" style="left:120px;top:680px;width:0;height:44px;border-left:1px dashed #d6cfd0"></div>
<div class="a" style="left:50px;top:724px;width:1843px;height:1px;background:#d4d4d5"></div>
<svg class="a" style="left:100px;top:694.2px" width="14" height="12" viewBox="0 0 14 12"><path d="M1.3 6.4 L5.2 10 L12.3 1.3" fill="none" stroke="#a8a8a8" stroke-width="2.5"/></svg>
<svg class="a" style="left:274.3px;top:684.8px" width="32" height="30" viewBox="0 0 32 30"><circle cx="15" cy="15.2" r="14.3" fill="rgba(255,255,255,.3)"/><circle cx="15" cy="15.2" r="11.9" fill="url(#ug)" stroke="#000" stroke-width="2.8"/><text x="17.6" y="21.4" transform="scale(.86 1)" font-family="'Liberation Sans',sans-serif" font-size="18.5" font-weight="bold" text-anchor="middle" fill="#000" stroke="#fff" stroke-width="1.9" paint-order="stroke" stroke-linejoin="round">?</text></svg>
<span class="t" style="left:389.0px;top:695.3px;font-size:12px;line-height:14px;color:#444;letter-spacing:-0.18px;-webkit-text-stroke-width:.24px">Check</span>
<span class="t" style="left:520.6px;top:695.3px;font-size:12px;line-height:14px;color:#999;letter-spacing:-0.42px;transform:scaleX(0.9895);transform-origin:0 0;-webkit-text-stroke-width:.24px">dag1</span>
<span class="t" style="left:669.6px;top:695.3px;font-size:12px;line-height:14px;color:#444;letter-spacing:-0.365px;-webkit-text-stroke-width:.24px">CPU Stats</span>
<span class="t" style="left:971.4px;top:695px;font-size:11px;line-height:14px;color:#444">★★★</span>
<span class="t" style="left:1110.4px;top:695.3px;font-size:12px;line-height:14px;color:#444;letter-spacing:0.44px;-webkit-text-stroke-width:.24px">All</span>
<span class="t" style="left:1239.4px;top:695.3px;font-size:12px;line-height:14px;color:#444;letter-spacing:-0.072px;-webkit-text-stroke-width:.24px">(unreachable host)</span>
<div class="a" style="left:121px;top:725px;width:1772px;height:44px;background:#d9e9f5"></div>
<div class="a" style="left:240px;top:725px;width:0;height:44px;border-left:1px dashed #d6cfd0"></div>
<div class="a" style="left:360px;top:725px;width:0;height:44px;border-left:1px dashed #d6cfd0"></div>
<div class="a" style="left:491px;top:725px;width:0;height:44px;border-left:1px dashed #d6cfd0"></div>
<div class="a" style="left:641px;top:725px;width:0;height:44px;border-left:1px dashed #d6cfd0"></div>
<div class="a" style="left:791px;top:725px;width:0;height:44px;border-left:1px dashed #d6cfd0"></div>
<div class="a" style="left:941px;top:725px;width:0;height:44px;border-left:1px dashed #d6cfd0"></div>
<div class="a" style="left:1081px;top:725px;width:0;height:44px;border-left:1px dashed #d6cfd0"></div>
<div class="a" style="left:1211px;top:725px;width:0;height:44px;border-left:1px dashed #d6cfd0"></div>
<div class="a" style="left:1541px;top:725px;width:0;height:44px;border-left:1px dashed #d6cfd0"></div>
<div class="a" style="left:120px;top:725px;width:0;height:44px;border-left:1px dashed #d6cfd0"></div>
<div class="a" style="left:50px;top:769px;width:1843px;height:1px;background:#d4d4d5"></div>
<svg class="a" style="left:100px;top:739.2px" width="14" height="12" viewBox="0 0 14 12"><path d="M1.3 6.4 L5.2 10 L12.3 1.3" fill="none" stroke="#a8a8a8" stroke-width="2.5"/></svg>
<svg class="a" style="left:274.3px;top:729.8px" width="32" height="30" viewBox="0 0 32 30"><circle cx="15" cy="15.2" r="14.3" fill="rgba(255,255,255,.3)"/><circle cx="15" cy="15.2" r="11.9" fill="url(#ug)" stroke="#000" stroke-width="2.8"/><text x="17.6" y="21.4" transform="scale(.86 1)" font-family="'Liberation Sans',sans-serif" font-size="18.5" font-weight="bold" text-anchor="middle" fill="#000" stroke="#fff" stroke-width="1.9" paint-order="stroke" stroke-linejoin="round">?</text></svg>
<span class="t" style="left:389.0px;top:740.3px;font-size:12px;line-height:14px;color:#444;letter-spacing:-0.18px;-webkit-text-stroke-width:.24px">Check</span>
<span class="t" style="left:520.6px;top:740.3px;font-size:12px;line-height:14px;color:#999;letter-spacing:-0.42px;transform:scaleX(0.9895);transform-origin:0 0;-webkit-text-stroke-width:.24px">dag1</span>
<span class="t" style="left:669.6px;top:740.3px;font-size:12px;line-height:14px;color:#444;letter-spacing:-0.103px;-webkit-text-stroke-width:.24px">CpuStats</span>
<span class="t" style="left:971.4px;top:740px;font-size:11px;line-height:14px;color:#444">★★★</span>
<span class="t" style="left:1110.4px;top:740.3px;font-size:12px;line-height:14px;color:#444;letter-spacing:0.44px;-webkit-text-stroke-width:.24px">All</span>
<span class="t" style="left:1239.4px;top:740.3px;font-size:12px;line-height:14px;color:#444;letter-spacing:-0.072px;-webkit-text-stroke-width:.24px">(unreachable host)</span>
<div class="a" style="left:121px;top:770px;width:1772px;height:44px;background:#deebf4"></div>
<div class="a" style="left:240px;top:770px;width:0;height:44px;border-left:1px dashed #d6cfd0"></div>
<div class="a" style="left:360px;top:770px;width:0;height:44px;border-left:1px dashed #d6cfd0"></div>
<div class="a" style="left:491px;top:770px;width:0;height:44px;border-left:1px dashed #d6cfd0"></div>
<div class="a" style="left:641px;top:770px;width:0;height:44px;border-left:1px dashed #d6cfd0"></div>
<div class="a" style="left:791px;top:770px;width:0;height:44px;border-left:1px dashed #d6cfd0"></div>
<div class="a" style="left:941px;top:770px;width:0;height:44px;border-left:1px dashed #d6cfd0"></div>
<div class="a" style="left:1081px;top:770px;width:0;height:44px;border-left:1px dashed #d6cfd0"></div>
<div class="a" style="left:1211px;top:770px;width:0;height:44px;border-left:1px dashed #d6cfd0"></div>
<div class="a" style="left:1541px;top:770px;width:0;height:44px;border-left:1px dashed #d6cfd0"></div>
<div class="a" style="left:120px;top:770px;width:0;height:44px;border-left:1px dashed #d6cfd0"></div>
<div class="a" style="left:50px;top:814px;width:1843px;height:1px;background:#d4d4d5"></div>
<svg class="a" style="left:100px;top:784.2px" width="14" height="12" viewBox="0 0 14 12"><path d="M1.3 6.4 L5.2 10 L12.3 1.3" fill="none" stroke="#a8a8a8" stroke-width="2.5"/></svg>
<svg class="a" style="left:274.3px;top:774.8px" width="32" height="30" viewBox="0 0 32 30"><circle cx="15" cy="15.2" r="14.3" fill="rgba(255,255,255,.3)"/><circle cx="15" cy="15.2" r="11.9" fill="url(#ug)" stroke="#000" stroke-width="2.8"/><text x="17.6" y="21.4" transform="scale(.86 1)" font-family="'Liberation Sans',sans-serif" font-size="18.5" font-weight="bold" text-anchor="middle" fill="#000" stroke="#fff" stroke-width="1.9" paint-order="stroke" stroke-linejoin="round">?</text></svg>
<span class="t" style="left:389.0px;top:785.3px;font-size:12px;line-height:14px;color:#444;letter-spacing:-0.18px;-webkit-text-stroke-width:.24px">Check</span>
<span class="t" style="left:520.6px;top:785.3px;font-size:12px;line-height:14px;color:#999;letter-spacing:-0.42px;transform:scaleX(0.9895);transform-origin:0 0;-webkit-text-stroke-width:.24px">dag1</span>
<span class="t" style="left:669.6px;top:785.3px;font-size:12px;line-height:14px;color:#444;letter-spacing:-0.18px;-webkit-text-stroke-width:.24px">Disks</span>
<span class="t" style="left:971.4px;top:785px;font-size:11px;line-height:14px;color:#444">★★★</span>
<span class="t" style="left:1110.4px;top:785.3px;font-size:12px;line-height:14px;color:#444;letter-spacing:0.44px;-webkit-text-stroke-width:.24px">All</span>
<span class="t" style="left:1239.4px;top:785.3px;font-size:12px;line-height:14px;color:#444;letter-spacing:-0.072px;-webkit-text-stroke-width:.24px">(unreachable host)</span>
<div class="a" style="left:121px;top:815px;width:1772px;height:44px;background:#d9e9f5"></div>
<div class="a" style="left:240px;top:815px;width:0;height:44px;border-left:1px dashed #d6cfd0"></div>
<div class="a" style="left:360px;top:815px;width:0;height:44px;border-left:1px dashed #d6cfd0"></div>
<div class="a" style="left:491px;top:815px;width:0;height:44px;border-left:1px dashed #d6cfd0"></div>
<div class="a" style="left:641px;top:815px;width:0;height:44px;border-left:1px dashed #d6cfd0"></div>
<div class="a" style="left:791px;top:815px;width:0;height:44px;border-left:1px dashed #d6cfd0"></div>
<div class="a" style="left:941px;top:815px;width:0;height:44px;border-left:1px dashed #d6cfd0"></div>
<div class="a" style="left:1081px;top:815px;width:0;height:44px;border-left:1px dashed #d6cfd0"></div>
<div class="a" style="left:1211px;top:815px;width:0;height:44px;border-left:1px dashed #d6cfd0"></div>
<div class="a" style="left:1541px;top:815px;width:0;height:44px;border-left:1px dashed #d6cfd0"></div>
<div class="a" style="left:120px;top:815px;width:0;height:44px;border-left:1px dashed #d6cfd0"></div>
<div class="a" style="left:50px;top:859px;width:1843px;height:1px;background:#d4d4d5"></div>
<svg class="a" style="left:100px;top:829.2px" width="14" height="12" viewBox="0 0 14 12"><path d="M1.3 6.4 L5.2 10 L12.3 1.3" fill="none" stroke="#a8a8a8" stroke-width="2.5"/></svg>
<svg class="a" style="left:274.3px;top:819.8px" width="32" height="30" viewBox="0 0 32 30"><circle cx="15" cy="15.2" r="14.3" fill="rgba(255,255,255,.3)"/><circle cx="15" cy="15.2" r="11.9" fill="url(#ug)" stroke="#000" stroke-width="2.8"/><text x="17.6" y="21.4" transform="scale(.86 1)" font-family="'Liberation Sans',sans-serif" font-size="18.5" font-weight="bold" text-anchor="middle" fill="#000" stroke="#fff" stroke-width="1.9" paint-order="stroke" stroke-linejoin="round">?</text></svg>
<span class="t" style="left:389.0px;top:830.3px;font-size:12px;line-height:14px;color:#444;letter-spacing:-0.18px;-webkit-text-stroke-width:.24px">Check</span>
<span class="t" style="left:520.6px;top:830.3px;font-size:12px;line-height:14px;color:#999;letter-spacing:-0.42px;transform:scaleX(0.9895);transform-origin:0 0;-webkit-text-stroke-width:.24px">dag1</span>
<span class="t" style="left:669.6px;top:830.3px;font-size:12px;line-height:14px;color:#444;letter-spacing:0.028px;-webkit-text-stroke-width:.24px">Disks Stats</span>
<span class="t" style="left:971.4px;top:830px;font-size:11px;line-height:14px;color:#444">★★★</span>
<span class="t" style="left:1110.4px;top:830.3px;font-size:12px;line-height:14px;color:#444;letter-spacing:0.44px;-webkit-text-stroke-width:.24px">All</span>
<span class="t" style="left:1239.4px;top:830.3px;font-size:12px;line-height:14px;color:#444;letter-spacing:-0.072px;-webkit-text-stroke-width:.24px">(unreachable host)</span>
<div class="a" style="left:50px;top:0;width:1px;height:680px;background:#d4d4d5"></div>
<div class="a" style="left:90px;top:0;width:1px;height:680px;background:#d4d4d5"></div>
<div class="a" style="left:120px;top:0;width:1px;height:680px;background:#d4d4d5"></div>
<div class="a" style="left:240px;top:0;width:1px;height:680px;background:#d4d4d5"></div>
<div class="a" style="left:360px;top:0;width:1px;height:680px;background:#d4d4d5"></div>
<div class="a" style="left:491px;top:0;width:1px;height:680px;background:#d4d4d5"></div>
<div class="a" style="left:641px;top:0;width:1px;height:680px;background:#d4d4d5"></div>
<div class="a" style="left:791px;top:0;width:1px;height:680px;background:#d4d4d5"></div>
<div class="a" style="left:941px;top:0;width:1px;height:680px;background:#d4d4d5"></div>
<div class="a" style="left:1081px;top:0;width:1px;height:680px;background:#d4d4d5"></div>
<div class="a" style="left:1211px;top:0;width:1px;height:680px;background:#d4d4d5"></div>
<div class="a" style="left:1541px;top:0;width:1px;height:680px;background:#d4d4d5"></div>
<div class="a" style="left:50px;top:680px;width:1px;height:155px;background:#d4d4d5"></div>
<div class="a" style="left:90px;top:680px;width:1px;height:155px;background:#d4d4d5"></div>
</div>
<div class="a" style="left:1777px;top:955px;width:116px;height:55px;background:#32a5dc;border-radius:6px 0 0 6px"></div>
<div class="a" style="left:1782px;top:969px;width:35px;height:26px;border:1px solid #222;border-radius:4px;background:linear-gradient(#fff,#dcdcdc);box-shadow:1px 2px 3px rgba(0,0,0,.6)"></div>
<span class="t" style="left:1789.66px;top:972px;font-size:18px;line-height:22px;color:#222;letter-spacing:-0.63px;transform:scaleX(0.9428);transform-origin:0 0">F1</span>
<span class="t" style="left:1829.8px;top:971.8px;font-size:18px;line-height:22px;color:#fff;letter-spacing:0.44px;-webkit-text-stroke-width:.5px">Help</span>
<svg class="a" style="left:1880px;top:960px" width="10" height="9" viewBox="0 0 10 9"><path d="M1 .6 L9 8.4 M9 .6 L1 8.4" stroke="#fff" stroke-width="1.5" fill="none"/></svg>
<div class="a" style="left:1893px;top:198px;width:17px;height:835px;background:#f1f1f1"></div>
<div class="a" style="left:1895px;top:215px;width:13px;height:449px;background:#c1c1c1"></div>
<svg class="a" style="left:1893px;top:198px" width="17" height="17" viewBox="0 0 17 17"><path d="M5 11 L8.5 6.6 L12 11 Z" fill="#a3a3a3"/></svg>
<svg class="a" style="left:1893px;top:1016px" width="17" height="17" viewBox="0 0 17 17"><path d="M5 6 L8.5 10.4 L12 6 Z" fill="#505050"/></svg>
<div class="a" style="left:50px;top:1033px;width:1843px;height:13px;background:#f1f1f1"></div>
<div class="a" style="left:1893px;top:1033px;width:17px;height:13px;background:#fff"></div>
<div class="a" style="left:67px;top:1035px;width:870px;height:11px;background:#c1c1c1"></div>
<svg class="a" style="left:1878px;top:1034px" width="14" height="13" viewBox="0 0 14 13"><path d="M5 3.4 L9.4 7.4 L5 11.4 Z" fill="#505050"/></svg>
<div class="a" style="left:50px;top:131px;width:1860px;height:27px;background:linear-gradient(#5e5e5e 0,#4b4b4b 3px,#474747 100%)"></div>
<div class="a" style="left:50px;top:158px;width:1843px;height:38px;background:#bed5e3"></div>
<div class="a" style="left:1893px;top:158px;width:17px;height:38px;background:#f1f1f1"></div>
<svg class="a" style="left:1893px;top:183px" width="17" height="13" viewBox="0 0 17 13"><path d="M5 4.6 L8.5 9 L12 4.6 Z" fill="#a3a3a3"/></svg>
<div class="a hsep" style="left:89px"></div>
<div class="a hsep" style="left:119px"></div>
<div class="a hsep" style="left:239px"></div>
<div class="a hsep" style="left:359px"></div>
<div class="a hsep" style="left:490px"></div>
<div class="a hsep" style="left:640px"></div>
<div class="a hsep" style="left:790px"></div>
<div class="a hsep" style="left:940px"></div>
<div class="a hsep" style="left:1080px"></div>
<div class="a hsep" style="left:1210px"></div>
<div class="a hsep" style="left:1540px"></div>
<div class="a hsep" style="left:1890px"></div>
<svg class="a" style="left:64px;top:139px" width="11" height="11" viewBox="0 0 11 11"><rect width="11" height="11" rx="2.2" fill="#fff"/><path d="M2.4 5.5 H8.6 M5.5 2.4 V8.6" stroke="#333" stroke-width="1.7"/></svg>
<svg class="a" style="left:97px;top:136px" width="16" height="14" viewBox="0 0 16 14"><path d="M2.2 7.2 L6.2 10.9 L13.3 1.9" fill="none" stroke="#fff" stroke-width="2.8"/></svg>
<svg class="a" style="left:1896px;top:139px" width="12" height="11" viewBox="0 0 12 11"><path d="M0 1.4 H11.4 M0 5.4 H11.4 M0 9.4 H11.4" stroke="#fff" stroke-width="2.4"/></svg>
<span class="t" style="left:147.9px;top:138.2px;font-size:11.6px;line-height:14px;color:#fff;font-weight:bold;-webkit-text-stroke:0;letter-spacing:-0.171px">Contexte</span>
<svg class="a" style="left:217.8px;top:137px" width="14" height="10" viewBox="0 0 14 10"><path d="M1.6 1.6 L6.8 7.6 L12 1.6" fill="none" stroke="#fff" stroke-width="2"/></svg>
<span class="t" style="left:276.3px;top:138.2px;font-size:11.6px;line-height:14px;color:#fff;font-weight:bold;-webkit-text-stroke:0;letter-spacing:-0.24px">Statut</span>
<svg class="a" style="left:337.8px;top:137px" width="14" height="10" viewBox="0 0 14 10"><path d="M1.6 1.6 L6.8 7.6 L12 1.6" fill="none" stroke="#fff" stroke-width="2"/></svg>
<span class="t" style="left:406.3px;top:138.2px;font-size:11.6px;line-height:14px;color:#fff;font-weight:bold;-webkit-text-stroke:0;letter-spacing:-0.406px;transform:scaleX(0.9362);transform-origin:0 0">Type</span>
<svg class="a" style="left:468.8px;top:137px" width="14" height="10" viewBox="0 0 14 10"><path d="M1.6 1.6 L6.8 7.6 L12 1.6" fill="none" stroke="#fff" stroke-width="2"/></svg>
<span class="t" style="left:530.9px;top:138.2px;font-size:11.6px;line-height:14px;color:#fff;font-weight:bold;-webkit-text-stroke:0;letter-spacing:-0.343px">Hostname</span>
<svg class="a" style="left:619px;top:137px" width="14" height="10" viewBox="0 0 14 10"><path d="M1.6 1.6 L6.8 7.6 L12 1.6" fill="none" stroke="#fff" stroke-width="2"/></svg>
<span class="t" style="left:671.32px;top:138.2px;font-size:11.6px;line-height:14px;color:#fff;font-weight:bold;-webkit-text-stroke:0;letter-spacing:-0.406px;transform:scaleX(0.9844);transform-origin:0 0">Nom de check</span>
<svg class="a" style="left:769px;top:137px" width="14" height="10" viewBox="0 0 14 10"><path d="M1.6 1.6 L6.8 7.6 L12 1.6" fill="none" stroke="#fff" stroke-width="2"/></svg>
<span class="t" style="left:837.3px;top:138.2px;font-size:11.6px;line-height:14px;color:#fff;font-weight:bold;-webkit-text-stroke:0;letter-spacing:-0.406px;transform:scaleX(0.9680);transform-origin:0 0">Adresse</span>
<svg class="a" style="left:919px;top:137px" width="14" height="10" viewBox="0 0 14 10"><path d="M1.6 1.6 L6.8 7.6 L12 1.6" fill="none" stroke="#fff" stroke-width="2"/></svg>
<span class="t" style="left:982.9px;top:138.2px;font-size:11.6px;line-height:14px;color:#fff;font-weight:bold;-webkit-text-stroke:0;letter-spacing:0.029px">Priorité</span>
<svg class="a" style="left:1059px;top:137px" width="14" height="10" viewBox="0 0 14 10"><path d="M1.6 1.6 L6.8 7.6 L12 1.6" fill="none" stroke="#fff" stroke-width="2"/></svg>
<span class="t" style="left:1113.52px;top:138.2px;font-size:11.6px;line-height:14px;color:#fff;font-weight:bold;-webkit-text-stroke:0;letter-spacing:-0.406px;transform:scaleX(0.9801);transform-origin:0 0">Royaume</span>
<svg class="a" style="left:1189px;top:137px" width="14" height="10" viewBox="0 0 14 10"><path d="M1.6 1.6 L6.8 7.6 L12 1.6" fill="none" stroke="#fff" stroke-width="2"/></svg>
<span class="t" style="left:1345.9px;top:138.2px;font-size:11.6px;line-height:14px;color:#fff;font-weight:bold;-webkit-text-stroke:0;letter-spacing:-0.371px">Résultat</span>
<svg class="a" style="left:1519px;top:137px" width="14" height="10" viewBox="0 0 14 10"><path d="M1.6 1.6 L6.8 7.6 L12 1.6" fill="none" stroke="#fff" stroke-width="2"/></svg>
<span class="t" style="left:1747.31px;top:138.2px;font-size:11.6px;line-height:14px;color:#fff;font-weight:bold;-webkit-text-stroke:0;letter-spacing:-0.406px;transform:scaleX(0.9870);transform-origin:0 0">Résultat Long</span>
<div class="a fbox" style="left:131px;width:98px;overflow:hidden">
<div class="a fcaret" style="left:89px;top:13px"></div></div>
<div class="a" style="left:131px;top:163px;width:86.5px;height:32px;overflow:hidden">
<span class="t" style="left:3.2px;top:6.800000000000001px;font-size:13.6px;line-height:16px;color:#777;font-style:italic;-webkit-text-stroke:0;letter-spacing:-0.213px">Pas de sélection</span>
</div>
<div class="a fbox" style="left:251px;width:98px;overflow:hidden">
<div class="a fcaret" style="left:89px;top:13px"></div></div>
<div class="a" style="left:251px;top:163px;width:86.5px;height:32px;overflow:hidden">
<span class="t" style="left:3.2px;top:6.800000000000001px;font-size:13.6px;line-height:16px;color:#777;font-style:italic;-webkit-text-stroke:0;letter-spacing:-0.213px">Pas de sélection</span>
</div>
<div class="a fbox" style="left:371px;width:108px;overflow:hidden">
<div class="a fcaret" style="left:99px;top:13px"></div></div>
<div class="a" style="left:371px;top:163px;width:96.5px;height:32px;overflow:hidden">
<span class="t" style="left:3.2px;top:6.800000000000001px;font-size:13.6px;line-height:16px;color:#777;font-style:italic;-webkit-text-stroke:0;letter-spacing:-0.213px">Pas de sélection</span>
</div>
<div class="a fbox" style="left:952px;width:118px;overflow:hidden">
<div class="a fcaret" style="left:109px;top:13px"></div></div>
<div class="a" style="left:952px;top:163px;width:106.5px;height:32px;overflow:hidden">
<span class="t" style="left:3.2px;top:6.800000000000001px;font-size:13.6px;line-height:16px;color:#777;font-style:italic;-webkit-text-stroke:0;letter-spacing:-0.213px">Pas de sélection</span>
</div>
<div class="a fbox" style="left:1092px;width:108px;overflow:hidden">
<div class="a fcaret" style="left:99px;top:13px"></div></div>
<div class="a" style="left:1092px;top:163px;width:96.5px;height:32px;overflow:hidden">
<span class="t" style="left:3.2px;top:6.800000000000001px;font-size:13.6px;line-height:16px;color:#777;font-style:italic;-webkit-text-stroke:0;letter-spacing:-0.213px">Pas de sélection</span>
</div>
<div class="a" style="left:0;top:0;width:1893px;height:198px;overflow:hidden;pointer-events:none">
<div class="a fbox" style="left:502px;width:128px;overflow:hidden">
<div class="a" style="left:0;top:0;width:125.5px;height:32px;overflow:hidden">
<span class="t" style="left:2.6px;top:9px;font-size:14px;line-height:17px;color:#aaa;font-style:italic;-webkit-text-stroke:0;letter-spacing:-0.224px">Saisir un hostname</span>
</div></div>
<div class="a fbox" style="left:652px;width:128px;overflow:hidden">
<div class="a" style="left:0;top:0;width:125.5px;height:32px;overflow:hidden">
<span class="t" style="left:2.6px;top:9px;font-size:14px;line-height:17px;color:#aaa;font-style:italic;-webkit-text-stroke:0;letter-spacing:-0.262px">Saisir un nom de check</span>
</div></div>
<div class="a fbox" style="left:802px;width:128px;overflow:hidden">
<div class="a" style="left:0;top:0;width:125.5px;height:32px;overflow:hidden">
<span class="t" style="left:2.6px;top:9px;font-size:14px;line-height:17px;color:#aaa;font-style:italic;-webkit-text-stroke:0;letter-spacing:-0.341px">Saisir une adresse</span>
</div></div>
<div class="a fbox" style="left:1222px;width:308px;overflow:hidden">
<div class="a" style="left:0;top:0;width:305.5px;height:32px;overflow:hidden">
<span class="t" style="left:2.6px;top:9px;font-size:14px;line-height:17px;color:#aaa;font-style:italic;-webkit-text-stroke:0;letter-spacing:-0.1px">Saisir du texte</span>
</div></div>
<div class="a fbox" style="left:1552px;width:360px;overflow:hidden">
<div class="a" style="left:0;top:0;width:357.5px;height:32px;overflow:hidden">
<span class="t" style="left:2.6px;top:9px;font-size:14px;line-height:17px;color:#aaa;font-style:italic;-webkit-text-stroke:0;letter-spacing:-0.1px">Saisir du texte</span>
</div></div>
</div>
<span class="t" style="left:236.8px;top:173px;font-size:11px;line-height:13px;color:#666;font-style:italic;-webkit-text-stroke:0">&amp;</span>
<span class="t" style="left:356.8px;top:173px;font-size:11px;line-height:13px;color:#666;font-style:italic;-webkit-text-stroke:0">&amp;</span>
<span class="t" style="left:487.8px;top:173px;font-size:11px;line-height:13px;color:#666;font-style:italic;-webkit-text-stroke:0">&amp;</span>
<span class="t" style="left:637.8px;top:173px;font-size:11px;line-height:13px;color:#666;font-style:italic;-webkit-text-stroke:0">&amp;</span>
<span class="t" style="left:787.8px;top:173px;font-size:11px;line-height:13px;color:#666;font-style:italic;-webkit-text-stroke:0">&amp;</span>
<span class="t" style="left:937.8px;top:173px;font-size:11px;line-height:13px;color:#666;font-style:italic;-webkit-text-stroke:0">&amp;</span>
<span class="t" style="left:1077.8px;top:173px;font-size:11px;line-height:13px;color:#666;font-style:italic;-webkit-text-stroke:0">&amp;</span>
<span class="t" style="left:1207.8px;top:173px;font-size:11px;line-height:13px;color:#666;font-style:italic;-webkit-text-stroke:0">&amp;</span>
<span class="t" style="left:1537.8px;top:173px;font-size:11px;line-height:13px;color:#666;font-style:italic;-webkit-text-stroke:0">&amp;</span>
<div class="a panel" style="left:48px;top:129px;width:1864px;height:69px;border-color:#5fba6d"></div>
<div class="a" style="left:47px;top:1047px;width:1867px;height:31px;background:#efece6"></div>
<div class="a pbtn" style="left:53px;width:34px"></div><div class="a pbtn" style="left:92.5px;width:33px"></div>
<svg class="a" style="left:53px;top:1053px" width="34" height="23" viewBox="0 0 34 23"><path d="M11.6 6.4 V16.8" stroke="#b4b4b4" stroke-width="1.6"/><path d="M21.6 6.6 L14 11.8 L21.6 17 Z" fill="#b4b4b4"/></svg>
<svg class="a" style="left:92px;top:1053px" width="34" height="23" viewBox="0 0 34 23"><path d="M20.6 6.6 L13 11.8 L20.6 17 Z" fill="#b4b4b4"/></svg>
<div class="a" style="left:140px;top:1052.5px;width:39.5px;height:22px;border:1px solid #ccc;border-radius:5px;background:linear-gradient(90deg,#fff 0,#fff 34px,#eee 34.5px)"></div>
<span class="t" style="left:147.6px;top:1055.8px;font-size:14px;line-height:17px;color:#111">1</span>
<svg class="a" style="left:161px;top:1059px" width="8" height="8" viewBox="0 0 8 8"><path d="M.8 1.2 H7.2 L4 6.8 Z" fill="#111"/></svg>
<span class="t" style="left:182.4px;top:1057.8px;font-size:12px;line-height:14px;color:#555;letter-spacing:1.08px">/9</span>
<div class="a pbtn" style="left:206.5px;width:33px;background:#f5f4f2;border-color:#d9d7d3"></div><div class="a pbtn" style="left:244px;width:32px;background:#f5f4f2;border-color:#d9d7d3"></div>
<svg class="a" style="left:206px;top:1053px" width="34" height="23" viewBox="0 0 34 23"><path d="M13 6.6 L20.6 11.8 L13 17 Z" fill="#444"/></svg>
<svg class="a" style="left:244px;top:1053px" width="34" height="23" viewBox="0 0 34 23"><path d="M11 6.6 L18.6 11.8 L11 17 Z" fill="#444"/><path d="M21 6.4 V16.8" stroke="#444" stroke-width="1.6"/></svg>
<div class="a" style="left:294px;top:1052.5px;width:55.5px;height:22px;border:1px solid #ccc;border-radius:5px;background:linear-gradient(90deg,#fff 0,#fff 50px,#eee 50.5px)"></div>
<span class="t" style="left:301.4px;top:1055.8px;font-size:14px;line-height:17px;color:#111;letter-spacing:-0.12px">100</span>
<svg class="a" style="left:331px;top:1059px" width="8" height="8" viewBox="0 0 8 8"><path d="M.8 1.2 H7.2 L4 6.8 Z" fill="#111"/></svg>
<span class="t" style="left:352.0px;top:1058.2px;font-size:12.4px;line-height:15px;color:#555;letter-spacing:-0.414px">lignes/page</span>
<span class="t" style="left:1706.8px;top:1058.2px;font-size:12.4px;line-height:15px;color:#555;letter-spacing:-0.254px">1 - 107 sur 917 Clusters/Hôtes/Checks</span>
<div class="a panel" style="left:45px;top:1045px;width:1871px;height:35px;border-color:#cc6600"></div>
<div class="a badge" style="left:34.2px;top:46.2px;background:#0095da"></div>
<span class="t" style="left:45.0px;top:51.2px;font-size:17.5px;line-height:21px;color:#fff">1</span>
<div class="a badge" style="left:34.2px;top:176px;background:#5fba6d"></div>
<span class="t" style="left:43.8px;top:181px;font-size:17.5px;line-height:21px;color:#fff">2</span>
<div class="a badge" style="left:33px;top:1032px;background:#cc6600"></div>
<span class="t" style="left:42.6px;top:1037px;font-size:17.5px;line-height:21px;color:#fff">3</span>
</body></html>
